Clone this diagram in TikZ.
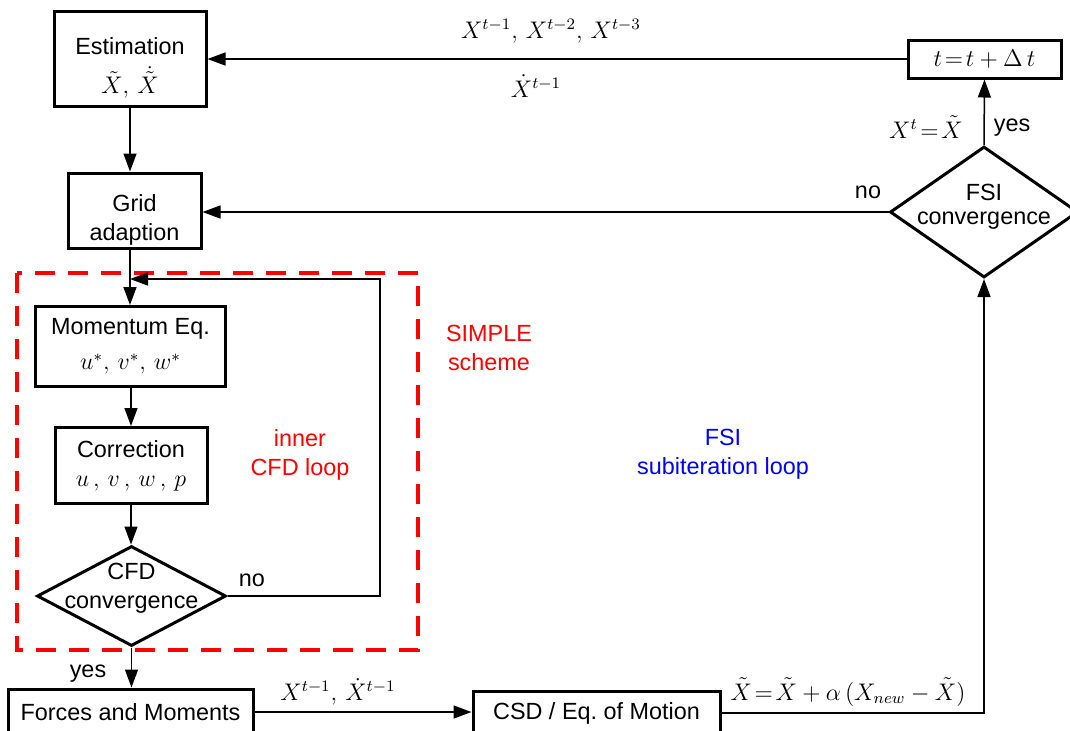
\documentclass[tikz,border=0pt]{standalone}
\usepackage{amsmath}
\usepackage{fontspec}
\setmainfont{Liberation Sans}
\usepackage{tikz}
\usetikzlibrary{shapes.geometric, arrows.meta}

\begin{document}
\begin{tikzpicture}[x=0.5pt,y=-0.5pt,line width=0.75pt,
  >={Triangle[length=9pt,width=6.5pt]},
  box/.style={draw,line width=1.5pt,align=center,inner sep=0pt,font=\fontsize{11.7}{14.5}\selectfont},
  decision/.style={draw,diamond,line width=1.5pt,inner sep=0pt},
  lbl/.style={align=center,font=\fontsize{11.7}{14.5}\selectfont}]
\useasboundingbox (0,0) rectangle (1070,730);
\draw[red,line width=2pt,dash pattern=on 10pt off 6.5pt] (17,273) rectangle (418,650);
\node[box,minimum width=76pt,minimum height=47.5pt] (est) at (130,58.5) {\rule{0pt}{18pt}Estimation\\[5pt]$\tilde{X},\,\dot{\tilde{X}}$};
\node[box,minimum width=66.5pt,minimum height=37.5pt] (grid) at (134.5,210.5) {\rule{0pt}{17.5pt}Grid\\adaption};
\node[box,minimum width=95pt,minimum height=40pt] (mom) at (130.5,346.5) {Momentum Eq.\\[3pt]$u^{*},\,v^{*},\,w^{*}$};
\node[box,minimum width=76pt,minimum height=38pt] (corr) at (131,465.5) {Correction\\$u\,,\,v\,,\,w\,,\,p$};
\node[decision,minimum width=94.5pt,minimum height=50pt] (cfd) at (131.5,596) {};
\node[lbl] (cfdtext) at (131.5,588) {CFD\\convergence};
\node[box,minimum width=122.5pt,minimum height=23pt] (forces) at (130.5,712) {Forces and Moments};
\node[box,minimum width=123.5pt,minimum height=22pt] (csd) at (596.5,713) {CSD / Eq.\ of Motion};
\node[decision,minimum width=94pt,minimum height=65.5pt] (fsi) at (984,212) {};
\node[lbl] (fsitext) at (984,207) {FSI\\[-2.5pt]convergence};
\node[box,minimum width=76.5pt,minimum height=19pt,font=\fontsize{12.5}{14}\selectfont] (tstep) at (984.5,59) {$t\!=\!t+\Delta\, t$};
\coordinate (join) at (130,279);
\draw[->] (tstep.west) -- (tstep.west -| est.east);
\draw[->] (est.south) -- (est.south |- grid.north);
\draw[->] (fsi.west) -- (fsi.west -| grid.east);
\draw[->] (grid.south -| join) -- (join |- mom.north);
\draw[->] (mom.south -| corr) -- (corr.north);
\draw[->] (corr.south) -- (cfd.north -| corr);
\draw[->] (cfd.east) -- (380,596) |- (join);
\draw[->] (cfd.south) -- (cfd.south |- forces.north);
\draw[->] (forces.east) -- (forces.east -| csd.west);
\draw[->] (csd.east) -| (fsi.south);
\draw[->] (fsi.north) -- (tstep.south);
\node[lbl] (past) at (551,31) {$X^{t-1},\,X^{t-2},\,X^{t-3}$};
\node[lbl] (pastdot) at (536,86) {$\dot{X}^{t-1}$};
\node[lbl] (update) at (926,127) {$X^{t}\!=\!\tilde{X}$};
\node[lbl] (fsiyes) at (1012,128) {yes};
\node[lbl] (fsino) at (868,192) {no};
\node[lbl,red] (simple) at (489,348) {SIMPLE\\scheme};
\node[lbl,red] (inner) at (300,455) {inner\\CFD loop};
\node[lbl,blue] (subit) at (723,454) {FSI\\subiteration loop};
\node[lbl] (cfdno) at (252,580) {no};
\node[lbl] (cfdyes) at (88,674) {yes};
\node[lbl] (state) at (338,692) {$X^{t-1},\,\dot{X}^{t-1}$};
\node[lbl] (relax) at (848,692) {$\tilde{X}\!=\!\tilde{X}+\alpha\,(X_{new}-\tilde{X})$};
\end{tikzpicture}
\end{document}
